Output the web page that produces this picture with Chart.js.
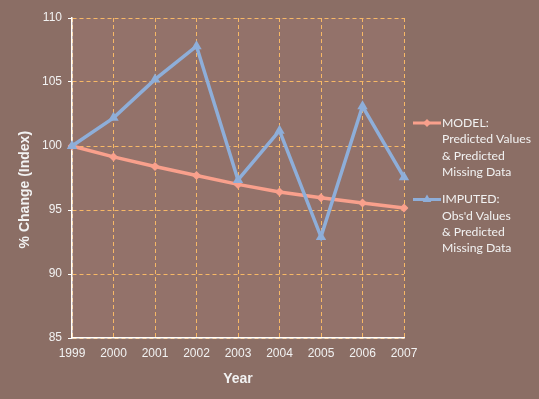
<!DOCTYPE html>
<html>
<head>
<meta charset="utf-8">
<script src="https://cdn.jsdelivr.net/npm/chart.js@4/dist/chart.umd.min.js"></script>
<style>
  body { margin: 0; background: #8b6e65; }
  canvas { display: block; }
</style>
</head>
<body>
<canvas id="chart" width="539" height="399"></canvas>
<script>
// data
const years = ["1999", "2000", "2001", "2002", "2003", "2004", "2005", "2006", "2007"];
const modelValues = [100, 99.15, 98.4, 97.7, 97.0, 96.4, 95.95, 95.55, 95.15];
const imputedValues = [100, 102.2, 105.2, 107.8, 97.35, 101.2, 92.9, 103.1, 97.55];
const modelLabel = ["MODEL:", "Predicted Values", "& Predicted", "Missing Data"];
const imputedLabel = ["IMPUTED:", "Obs'd Values", "& Predicted", "Missing Data"];
const yMin = 85, yMax = 110, yStep = 5;

const gridColor = "#f7b866";
const textColor = "#f2f2f2";
const axisFont = "'Liberation Sans', Arial, sans-serif";

// fill the plot area a bit lighter than the page
const plotBg = {
  id: "plotBg",
  beforeDraw(chart) {
    const { ctx, chartArea: a } = chart;
    ctx.save();
    ctx.fillStyle = "#93726a";
    ctx.fillRect(a.left, a.top, a.right - a.left, a.bottom - a.top);
    ctx.restore();
  }
};

// legend on the right with multi-line labels
const sideLegend = {
  id: "sideLegend",
  afterDraw(chart) {
    const ctx = chart.ctx;
    const x = chart.chartArea.right + 9;
    let y = 123;
    chart.data.datasets.forEach(ds => {
      ctx.save();
      ctx.strokeStyle = ds.borderColor;
      ctx.lineWidth = 3;
      ctx.beginPath();
      ctx.moveTo(x, y);
      ctx.lineTo(x + 28, y);
      ctx.stroke();
      ctx.fillStyle = ds.pointBackgroundColor;
      Chart.helpers.drawPoint(ctx, {
        pointStyle: ds.pointStyle,
        radius: ds.pointStyle === "triangle" ? 5 : 4,
        rotation: 0,
        borderWidth: 0
      }, x + 14, y);
      ctx.fillStyle = textColor;
      ctx.font = "12.2px Lato, sans-serif";
      ctx.textBaseline = "middle";
      ds.legendLines.forEach((line, i) => {
        ctx.fillText(line, x + 29, y + i * 16.3);
      });
      ctx.restore();
      y += 76.5;
    });
  }
};

new Chart(document.getElementById("chart"), {
  type: "line",
  data: {
    labels: years,
    datasets: [{
      label: modelLabel.join(" "),
      legendLines: modelLabel,
      data: modelValues,
      borderColor: "#f9a08c",
      backgroundColor: "#f9a08c",
      pointBackgroundColor: "#f9a08c",
      borderWidth: 3.5,
      pointStyle: "rectRot",
      pointRadius: 4.5,
      pointBorderWidth: 0,
      order: 1
    }, {
      label: imputedLabel.join(" "),
      legendLines: imputedLabel,
      data: imputedValues,
      borderColor: "#8eaed9",
      backgroundColor: "#8eaed9",
      pointBackgroundColor: "#8eaed9",
      borderWidth: 3.5,
      pointStyle: "triangle",
      pointRadius: 6,
      pointBorderWidth: 0,
      order: 0
    }]
  },
  options: {
    responsive: false,
    animation: false,
    layout: { padding: { left: 0, right: 135, top: 18, bottom: 0 } },
    plugins: {
      legend: { display: false },
      tooltip: { enabled: false }
    },
    scales: {
      x: {
        offset: false,
        afterFit(scale) { scale.height = 61; },
        grid: { color: gridColor, lineWidth: 1, drawTicks: false },
        border: { color: "#ffffff", width: 1.5, dash: [4, 3] },
        ticks: { color: textColor, font: { family: axisFont, size: 12 }, padding: 8, maxRotation: 0 },
        title: {
          display: true,
          text: "Year",
          color: textColor,
          font: { family: axisFont, size: 14, weight: "bold" },
          padding: { top: 0, bottom: 11 }
        }
      },
      y: {
        min: yMin,
        max: yMax,
        afterFit(scale) { scale.width = 72; },
        grid: { color: gridColor, lineWidth: 1, tickLength: 4, tickColor: "#ffffff" },
        border: { color: "#ffffff", width: 1.5, dash: [4, 3] },
        ticks: { stepSize: yStep, color: textColor, font: { family: axisFont, size: 12 }, padding: 6 },
        title: {
          display: true,
          text: "% Change (Index)      ",
          color: textColor,
          font: { family: axisFont, size: 14, weight: "bold" },
          padding: { top: 17, bottom: 0 }
        }
      }
    }
  },
  plugins: [plotBg, sideLegend]
});
</script>
</body>
</html>
